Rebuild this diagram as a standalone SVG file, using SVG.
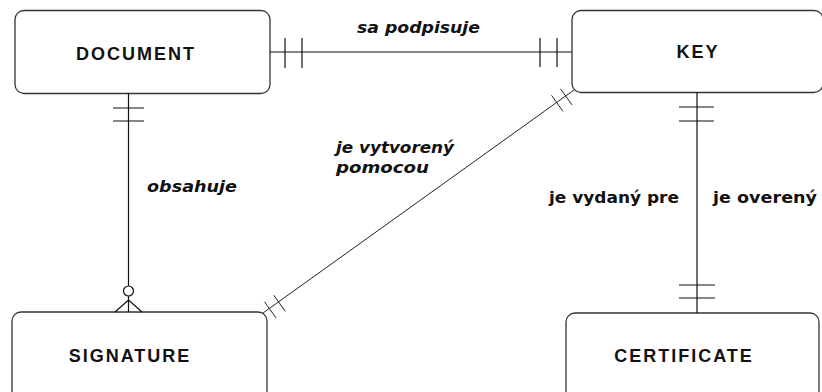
<svg xmlns="http://www.w3.org/2000/svg" width="822" height="392" viewBox="0 0 822 392">
<style>
.box{fill:#fff;stroke:#333;stroke-width:1.3}
.name{font-family:"Liberation Sans",Arial,sans-serif;font-weight:bold;font-size:18px;letter-spacing:2px;fill:#111;text-anchor:middle}
.lbl{font-family:"DejaVu Sans",Verdana,sans-serif;font-weight:bold;font-size:16px;fill:#111}
.it{font-style:italic}
.ln{stroke:#111;stroke-width:1.2;fill:none}
.dg{stroke:#222;stroke-width:1;fill:none}
</style>
<rect width="822" height="392" fill="#fff"/>
<g id="document"><rect class="box" x="15" y="10.5" width="255" height="83" rx="9"/><text class="name" x="136" y="60">DOCUMENT</text></g>
<g id="key"><rect class="box" x="572" y="10.5" width="251" height="82" rx="9"/><text class="name" x="698" y="58">KEY</text></g>
<g id="signature"><rect class="box" x="12" y="312" width="255" height="100" rx="9"/><text class="name" x="130" y="362">SIGNATURE</text></g>
<g id="certificate"><rect class="box" x="566" y="313" width="253" height="100" rx="9"/><text class="name" x="684" y="362">CERTIFICATE</text></g>
<g id="connectors">
<path class="ln" d="M270 52H572M285 38V68M302 38V68M540 38V67M557 38V67"/>
<path class="ln" d="M128.5 93.5V286M113 108H144M113 121H144M128.5 296V312M115 312L128.5 300L142 312"/>
<circle class="ln" cx="128.5" cy="291" r="5"/>
<path class="ln" d="M697 92.5V313M679 107H714M679 121H714M679 285H715M679 298H715"/>
<path class="dg" d="M263 313L574 90M264.5 301.8L276 317.9M273.8 295.3L285.3 311.4M551.5 95.3L563 111.4M560.5 88.8L572 104.9"/>
<text class="lbl it" x="357" y="33" textLength="123" lengthAdjust="spacingAndGlyphs">sa podpisuje</text>
<text class="lbl it" x="147" y="192" textLength="90" lengthAdjust="spacingAndGlyphs">obsahuje</text>
<text class="lbl it" x="336" y="153" textLength="118" lengthAdjust="spacingAndGlyphs">je vytvorený</text>
<text class="lbl it" x="336" y="173" textLength="93" lengthAdjust="spacingAndGlyphs">pomocou</text>
<text class="lbl" x="549" y="203" textLength="130" lengthAdjust="spacingAndGlyphs">je vydaný pre</text>
<text class="lbl" x="713" y="203" textLength="104" lengthAdjust="spacingAndGlyphs">je overený</text>
</g>
</svg>
